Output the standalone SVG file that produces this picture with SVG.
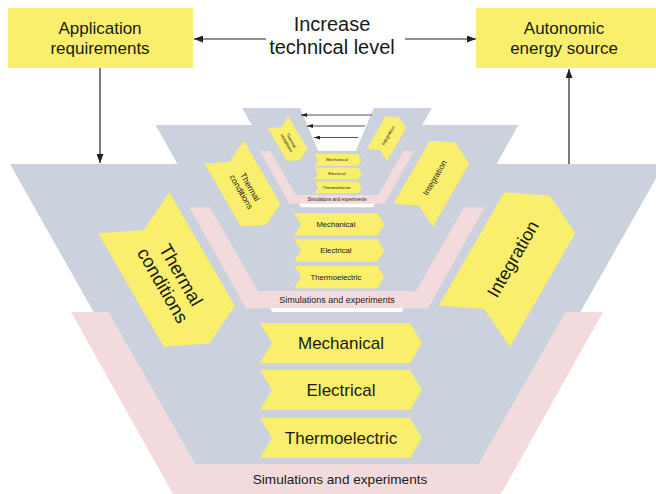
<svg xmlns="http://www.w3.org/2000/svg" width="656" height="494" viewBox="0 0 656 494">
<style>
  .grey{fill:#CBD2DD}
  .pink{fill:#F3DADC}
  .yel{fill:#F9EF6C}
  text{font-family:"Liberation Sans",Arial,sans-serif;fill:#1a1a1a;text-anchor:middle;dominant-baseline:central}
  .conn{stroke:#222;stroke-width:1.2;fill:none}
  .conn-s{stroke:#222;stroke-width:0.8;fill:none}
</style>
<defs>
  <path id="funnel" d="M-327,0 L-127,0 L-65,148 L65,148 L127,0 L327,0 L243.4,148 L229,148 L142,300 L-142,300 L-229,148 L-243.4,148 Z"/>
  <path id="band" d="M-266,148 L-229,148 L-142,300 L142,300 L229,148 L266,148 L164,330 L-164,330 Z"/>
  <polygon id="chev" points="-77,0 73,0 85,20 73,40 -77,40 -65,20"/>
  <polygon id="bigchev" points="-65.5,-41 65.5,-41 85.5,0 65.5,41 -65.5,41 -45.5,0"/>
  <marker id="ah" markerUnits="userSpaceOnUse" markerWidth="9" markerHeight="7" refX="9" refY="3.5" orient="auto">
    <path d="M0,0 L9,3.5 L0,7 Z" fill="#222"/>
  </marker>
  <marker id="ahs" markerUnits="userSpaceOnUse" markerWidth="6" markerHeight="4" refX="6" refY="2" orient="auto">
    <path d="M0,0 L6,2 L0,4 Z" fill="#222"/>
  </marker>
</defs>

<g id="app-req">
  <rect x="8" y="8" width="185" height="60" class="yel"/>
  <text x="100" y="28" font-size="17">Application</text>
  <text x="100" y="48" font-size="17">requirements</text>
</g>
<g id="tech-level">
  <text x="332" y="24" font-size="20">Increase</text>
  <text x="332" y="47" font-size="20">technical level</text>
</g>
<g id="auto-energy">
  <rect x="476" y="8" width="190" height="60" class="yel"/>
  <text x="564" y="28" font-size="17">Autonomic</text>
  <text x="564" y="48" font-size="17">energy source</text>
</g>

<g id="level1" transform="translate(337,164)">
  <use href="#funnel" class="grey"/>
  <use href="#band" class="pink"/>
  <g id="l1-thermal" transform="translate(-170.5,105.5) rotate(60)">
    <use href="#bigchev" class="yel"/>
    <text font-size="18.5"><tspan x="12" y="-10.5">Thermal</tspan><tspan x="12" y="10.5">conditions</tspan></text>
  </g>
  <g id="l1-integration" transform="translate(170,105.5) rotate(-60)">
    <use href="#bigchev" class="yel"/>
    <text x="12" y="0" font-size="18">Integration</text>
  </g>
  <g id="l1-mech" transform="translate(0,159)"><use href="#chev" class="yel"/><text x="4" y="20" font-size="17">Mechanical</text></g>
  <g id="l1-elec" transform="translate(0,206)"><use href="#chev" class="yel"/><text x="4" y="20" font-size="17">Electrical</text></g>
  <g id="l1-thermo" transform="translate(0,254)"><use href="#chev" class="yel"/><text x="4" y="20" font-size="17">Thermoelectric</text></g>
  <g id="l1-sim"><text x="3" y="315" font-size="13.6">Simulations and experiments</text></g>
</g>

<g id="level2" transform="translate(337,125) scale(0.555)">
  <use href="#funnel" class="grey"/>
  <use href="#band" class="pink"/>
  <g id="l2-thermal" transform="translate(-170.5,105.5) rotate(60)">
    <use href="#bigchev" class="yel"/>
    <text font-size="15.3"><tspan x="12" y="-9">Thermal</tspan><tspan x="12" y="9">conditions</tspan></text>
  </g>
  <g id="l2-integration" transform="translate(170,105.5) rotate(-60)">
    <use href="#bigchev" class="yel"/>
    <text x="12" y="0" font-size="15">Integration</text>
  </g>
  <g id="l2-mech" transform="translate(0,159)"><use href="#chev" class="yel"/><text x="-2" y="20" font-size="13.9">Mechanical</text></g>
  <g id="l2-elec" transform="translate(0,206)"><use href="#chev" class="yel"/><text x="-2" y="20" font-size="13.9">Electrical</text></g>
  <g id="l2-thermo" transform="translate(0,254)"><use href="#chev" class="yel"/><text x="-2" y="20" font-size="13.9">Thermoelectric</text></g>
  <g id="l2-sim"><text x="0" y="315" font-size="16.2">Simulations and experiments</text></g>
</g>

<g id="level3" transform="translate(337,108) scale(0.29)">
  <use href="#funnel" class="grey"/>
  <use href="#band" class="pink"/>
  <g id="l3-thermal" transform="translate(-170.5,105.5) rotate(60)">
    <use href="#bigchev" class="yel"/>
    <text font-size="15.5"><tspan x="12" y="-9">Thermal</tspan><tspan x="12" y="9">conditions</tspan></text>
  </g>
  <g id="l3-integration" transform="translate(170,105.5) rotate(-60)">
    <use href="#bigchev" class="yel"/>
    <text x="12" y="0" font-size="15.5">Integration</text>
  </g>
  <g id="l3-mech" transform="translate(0,159)"><use href="#chev" class="yel"/><text x="0" y="20" font-size="14.8">Mechanical</text></g>
  <g id="l3-elec" transform="translate(0,206)"><use href="#chev" class="yel"/><text x="0" y="20" font-size="14.8">Electrical</text></g>
  <g id="l3-thermo" transform="translate(0,254)"><use href="#chev" class="yel"/><text x="0" y="20" font-size="14.8">Thermoelectric</text></g>
  <g id="l3-sim"><text x="0" y="315" font-size="15.9">Simulations and experiments</text></g>
</g>

<g id="connectors">
  <line x1="266" y1="39" x2="194" y2="39" class="conn" marker-end="url(#ah)"/>
  <line x1="405" y1="39" x2="476" y2="39" class="conn" marker-end="url(#ah)"/>
  <line x1="100" y1="68" x2="100" y2="163" class="conn" marker-end="url(#ah)"/>
  <line x1="569" y1="164" x2="569" y2="69" class="conn" marker-end="url(#ah)"/>
  <line x1="372" y1="115" x2="301" y2="115" class="conn-s" marker-end="url(#ahs)"/>
  <line x1="365" y1="126" x2="307" y2="126" class="conn-s" marker-end="url(#ahs)"/>
  <line x1="358" y1="137.5" x2="314" y2="137.5" class="conn-s" marker-end="url(#ahs)"/>
</g>
</svg>
